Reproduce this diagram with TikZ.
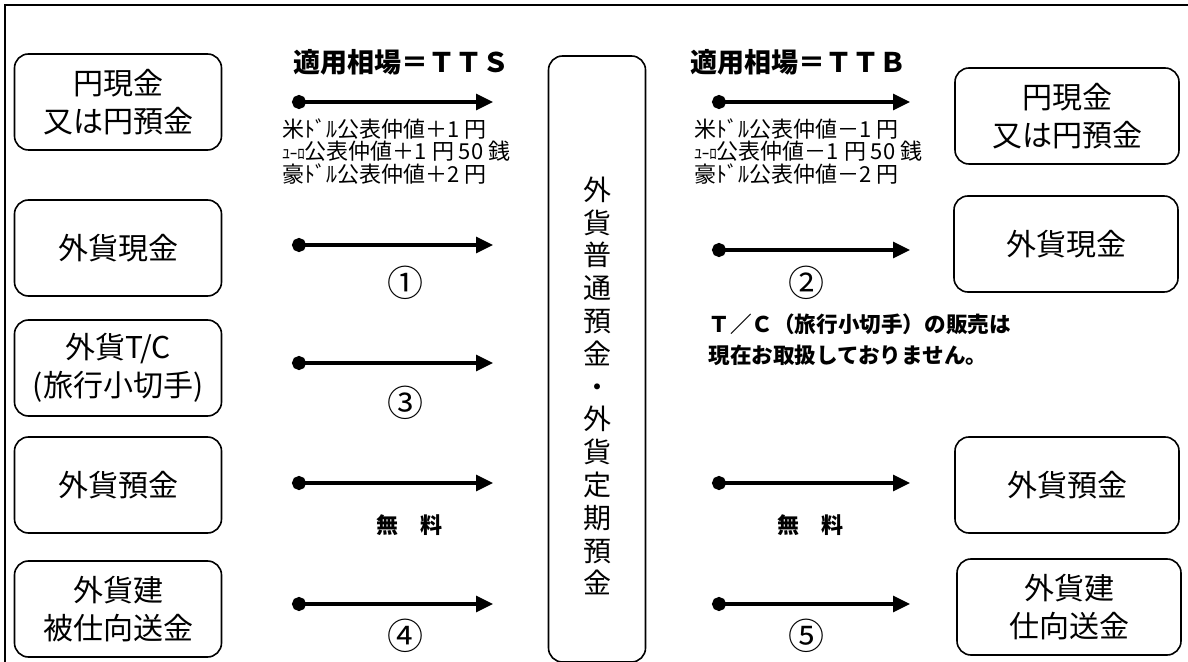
\documentclass[tikz,border=0pt]{standalone}
\usepackage{fontspec}
\setmainfont{Noto Sans CJK JP}
\usetikzlibrary{arrows.meta, positioning}

\tikzset{
  item/.style={draw, line width=0.8pt, rounded corners=7pt, align=center,
    inner sep=0pt, font=\fontsize{15}{19}\selectfont},
  leftbox/.style={item, minimum width=103.5pt, minimum height=48pt},
  rightbox/.style={item, minimum width=112pt, minimum height=48pt},
  flow/.style={line width=1.6pt, {Circle[length=7pt]}-{Triangle[length=8.5pt,width=8pt]}},
  title/.style={font=\fontsize{13.5}{16}\selectfont\bfseries, inner sep=0pt},
  rate/.style={align=left, inner sep=0pt, font=\fontsize{11}{11.4}\selectfont},
  numlbl/.style={inner sep=0pt, font=\fontsize{18}{20}\selectfont},
  fee/.style={inner sep=0pt, font=\fontsize{11}{12}\selectfont\bfseries},
}
\newcommand{\euro}{{\fontsize{7.5}{7.5}\selectfont ﾕｰﾛ}}

\begin{document}
\begin{tikzpicture}[x=0.5pt, y=-0.5pt]
    \useasboundingbox (0,0) rectangle (1188,662);
    % 外枠
    \draw[line width=1.3pt] (1188,5) -- (5,5) -- (5,662);

    % 中央の口座
    \node[item, minimum width=48.5pt, minimum height=303pt] (acct) at (597,359) {};
    \node[align=center, inner sep=0pt, font=\fontsize{14}{16.4}\selectfont]
         (acctText) at (597,386)
         {外\\貨\\普\\通\\預\\金\\・\\外\\貨\\定\\期\\預\\金};

    % 左側（入金）
    \node[leftbox] (yenL)  at (118,102) {円現金\\又は円預金};
    \node[leftbox] (cashL) at (118,248) {外貨現金};
    \node[leftbox] (tcL)   at (118,368) {外貨T/C\\(旅行小切手)};
    \node[leftbox] (depL)  at (118,485) {外貨預金};
    \node[leftbox] (remL)  at (118,609) {外貨建\\被仕向送金};

    % 右側（出金）
    \node[rightbox] (yenR)  at (1067,116) {円現金\\又は円預金};
    \node[rightbox] (cashR) at (1066,244) {外貨現金};
    \node[rightbox] (depR)  at (1067,485) {外貨預金};
    \node[rightbox] (remR)  at (1069,607) {外貨建\\仕向送金};

    % 矢印の端点
    \coordinate (s1) at (292,102); \coordinate (e1) at (493,102);
    \coordinate (s2) at (292,245); \coordinate (e2) at (493,245);
    \coordinate (s3) at (292,363); \coordinate (e3) at (493,363);
    \coordinate (s4) at (292,483); \coordinate (e4) at (493,483);
    \coordinate (s5) at (292,604); \coordinate (e5) at (493,604);
    \coordinate (t1) at (712,102); \coordinate (f1) at (910,102);
    \coordinate (t2) at (712,250); \coordinate (f2) at (910,250);
    \coordinate (t4) at (712,483); \coordinate (f4) at (910,483);
    \coordinate (t5) at (712,604); \coordinate (f5) at (910,604);

    \foreach \a/\b in {s1/e1, s2/e2, s3/e3, s4/e4, s5/e5, t1/f1, t2/f2, t4/f4, t5/f5}
        \draw[flow] (\a) -- (\b);

    % 適用相場
    \node[title] (tts) at (401,62) {適用相場＝ＴＴＳ};
    \node[title] (ttb) at (798,62) {適用相場＝ＴＴＢ};
    \node[rate, anchor=north west] (rateL) at (282,118)
         {米ﾄﾞﾙ公表仲値＋1 円\\\euro 公表仲値＋1 円 50 銭\\豪ﾄﾞﾙ公表仲値＋2 円};
    \node[rate, anchor=north west] (rateR) at (694,118)
         {米ﾄﾞﾙ公表仲値－1 円\\\euro 公表仲値－1 円 50 銭\\豪ﾄﾞﾙ公表仲値－2 円};

    % 番号と手数料
    \node[numlbl] (n1) at (405,283) {①};
    \node[numlbl] (n2) at (806,283) {②};
    \node[numlbl] (n3) at (405,403) {③};
    \node[numlbl] (n4) at (405,636) {④};
    \node[numlbl] (n5) at (806,636) {⑤};
    \node[fee] (feeL) at (409,525) {無　料};
    \node[fee] (feeR) at (810,525) {無　料};

    \node[align=left, inner sep=0pt, anchor=west,
          font=\fontsize{10.8}{15.5}\selectfont\bfseries] (tcnote) at (708,340)
         {Ｔ／Ｃ（旅行小切手）の販売は\\現在お取扱しておりません。};
\end{tikzpicture}
\end{document}
